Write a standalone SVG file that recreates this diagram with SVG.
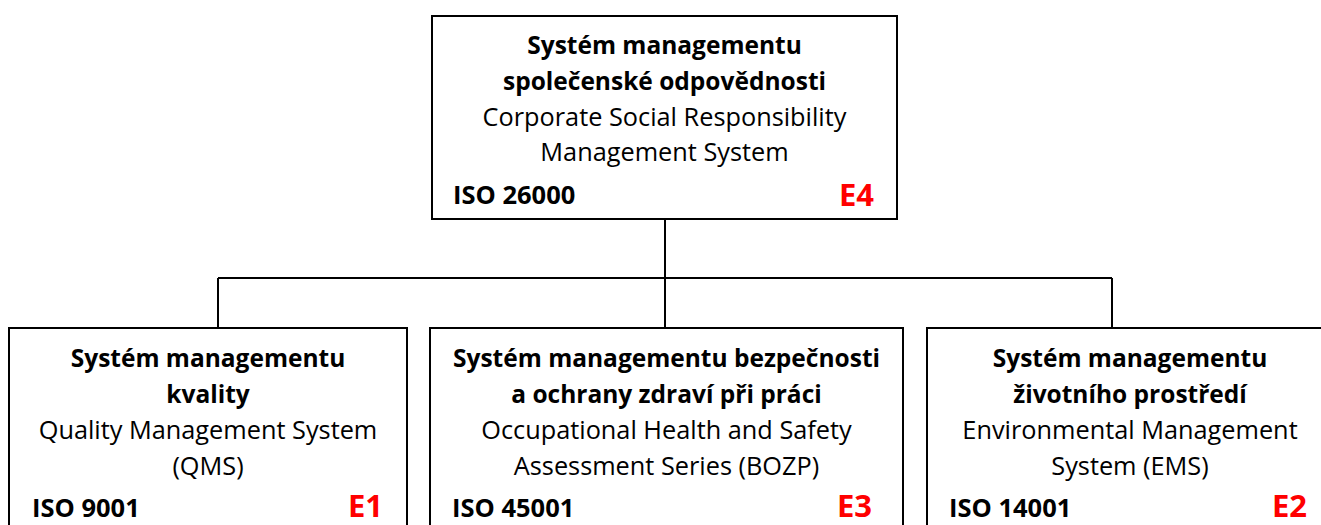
<svg xmlns="http://www.w3.org/2000/svg" width="1321" height="525" viewBox="0 0 1321 525">
<style>
.box{fill:#fff;stroke:#000;stroke-width:2}
.con{fill:none;stroke:#000;stroke-width:2}
text{font-family:"Open Sans","Noto Sans","Liberation Sans",sans-serif;fill:#000}
.t{font-weight:bold;font-size:24.5px;text-anchor:middle}
.s{font-size:25.3px;text-anchor:middle}
.iso{font-weight:bold;font-size:25.5px}
.e{font-weight:bold;font-size:31px;fill:#f00;text-anchor:end}
</style>
<rect width="1321" height="525" fill="#fff"/>
<g id="connectors">
<path class="con" d="M665,219 V278 M218,278 H1112 M218,278 V328 M665,278 V328 M1112,278 V328"/>
</g>
<g id="e4">
<rect class="box" x="432" y="16" width="465" height="203"/>
<text class="t" x="664.5" y="54">Systém managementu</text>
<text class="t" x="664.5" y="90">společenské odpovědnosti</text>
<text class="s" x="664.5" y="126">Corporate Social Responsibility</text>
<text class="s" x="664.5" y="161">Management System</text>
<text class="iso" x="453" y="204">ISO 26000</text>
<text class="e" x="874" y="206">E4</text>
</g>
<g id="e1">
<rect class="box" x="9" y="328" width="398" height="210"/>
<text class="t" x="208" y="367">Systém managementu</text>
<text class="t" x="208" y="403">kvality</text>
<text class="s" x="208" y="439">Quality Management System</text>
<text class="s" x="208" y="475">(QMS)</text>
<text class="iso" x="32" y="517">ISO 9001</text>
<text class="e" x="383" y="517">E1</text>
</g>
<g id="e3">
<rect class="box" x="430" y="328" width="473" height="210"/>
<text class="t" x="666.5" y="367">Systém managementu bezpečnosti</text>
<text class="t" x="666.5" y="403">a ochrany zdraví při práci</text>
<text class="s" x="666.5" y="439">Occupational Health and Safety</text>
<text class="s" x="666.5" y="475">Assessment Series (BOZP)</text>
<text class="iso" x="452" y="517">ISO 45001</text>
<text class="e" x="872" y="517">E3</text>
</g>
<g id="e2">
<rect class="box" x="927" y="328" width="406" height="210"/>
<text class="t" x="1130" y="367">Systém managementu</text>
<text class="t" x="1130" y="403">životního prostředí</text>
<text class="s" x="1130" y="439">Environmental Management</text>
<text class="s" x="1130" y="475">System (EMS)</text>
<text class="iso" x="949" y="517">ISO 14001</text>
<text class="e" x="1307" y="517">E2</text>
</g>
</svg>
